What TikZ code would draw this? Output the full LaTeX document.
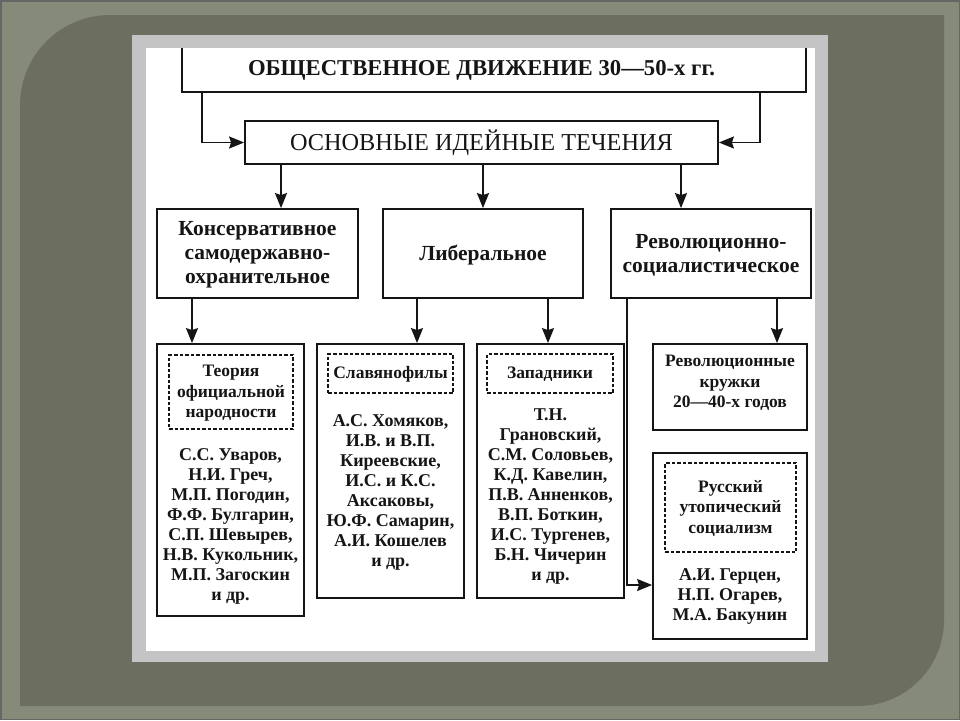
\documentclass[tikz,border=0pt]{standalone}
\usepackage{fontspec}
\setmainfont{Liberation Serif}
\usetikzlibrary{arrows.meta}
\definecolor{outerbg}{HTML}{868A79}
\definecolor{panel}{HTML}{6C6F60}
\definecolor{framegrey}{HTML}{C4C4C4}
\definecolor{ink}{HTML}{151515}
\begin{document}
\begin{tikzpicture}[x=1pt,y=-1pt,
  bx/.style={draw=ink, line width=1.8pt, inner sep=0pt, fill=white},
  dbx/.style={draw=ink, line width=1.4pt, dash pattern=on 3.5pt off 2pt, inner sep=0pt},
  ttl/.style={text=ink, align=center, inner sep=0pt, font=\fontsize{22.7}{26}\selectfont\bfseries},
  ttlb/.style={text=ink, align=center, inner sep=0pt, font=\fontsize{24.3}{26}\selectfont},
  lvl/.style={text=ink, align=center, inner sep=0pt, font=\fontsize{21.5}{24}\selectfont\bfseries},
  sub/.style={text=ink, align=center, inner sep=0pt, font=\fontsize{17.5}{20.5}\selectfont\bfseries},
  nms/.style={text=ink, align=center, inner sep=0pt, font=\fontsize{18}{20}\selectfont\bfseries},
  arr/.style={draw=ink, line width=1.8pt, -{Stealth[length=15pt,width=12pt,inset=2pt]}}
]
\useasboundingbox (0,0) rectangle (960,720);
% background
\fill[outerbg] (0,0) rectangle (960,720);
\fill[panel] (20,706) -- (20,105) arc[start angle=180,end angle=270,radius=90]
  -- (944,15) -- (944,620) arc[start angle=0,end angle=90,radius=86] -- cycle;
\draw[black!60, line width=1.5pt] (0.75,0.75) rectangle (959.25,719.25);
% picture frame
\fill[framegrey] (132,35) rectangle (828,662);
\fill[white] (146,48) rectangle (815,651);
\begin{scope}
\clip (146,48) rectangle (815,651);
% boxes
\node[bx, minimum width=624pt, minimum height=70pt] (top) at (494,57) {};
\node[ttl] (topt) at (481.5,70) {ОБЩЕСТВЕННОЕ ДВИЖЕНИЕ 30—50-х гг.};
\node[bx, minimum width=473pt, minimum height=43pt] (main) at (481.5,142.5) {};
\node[ttlb] (maint) at (481.5,142.5) {ОСНОВНЫЕ ИДЕЙНЫЕ ТЕЧЕНИЯ};

\node[bx, minimum width=201pt, minimum height=89pt] (A) at (257.5,253.5) {};
\node[lvl] (At) at (257.5,254.5) {Консервативное\\самодержавно-\\охранительное};
\node[bx, minimum width=200pt, minimum height=89pt] (B) at (483,253.5) {};
\node[lvl] (Bt) at (483,255) {Либеральное};
\node[bx, minimum width=200pt, minimum height=89pt] (C) at (711,253.5) {};
\node[lvl] (Ct) at (711,255) {Революционно-\\социалистическое};

\node[bx, minimum width=147pt, minimum height=272pt] (D) at (230.5,480) {};
\node[dbx, minimum width=124pt, minimum height=74pt] (dD) at (231,392) {};
\node[sub] (dDt) at (231,393.5) {Теория\\официальной\\народности};
\node[nms] (Dn) at (230.5,526) {С.С. Уваров,\\Н.И. Греч,\\М.П. Погодин,\\Ф.Ф. Булгарин,\\С.П. Шевырев,\\Н.В. Кукольник,\\М.П. Загоскин\\и др.};

\node[bx, minimum width=147pt, minimum height=254pt] (E) at (390.5,471) {};
\node[dbx, minimum width=125pt, minimum height=39pt] (dE) at (390.5,373.5) {};
\node[sub] (dEt) at (390.5,374.5) {Славянофилы};
\node[nms] (En) at (390.5,492) {А.С. Хомяков,\\И.В. и В.П.\\Киреевские,\\И.С. и К.С.\\Аксаковы,\\Ю.Ф. Самарин,\\А.И. Кошелев\\и др.};

\node[bx, minimum width=147pt, minimum height=254pt] (F) at (550.5,471) {};
\node[dbx, minimum width=126pt, minimum height=39pt] (dF) at (550,373.5) {};
\node[sub] (dFt) at (550,374.5) {Западники};
\node[nms] (Fn) at (550.5,497) {Т.Н.\\Грановский,\\С.М. Соловьев,\\К.Д. Кавелин,\\П.В. Анненков,\\В.П. Боткин,\\И.С. Тургенев,\\Б.Н. Чичерин\\и др.};

\node[bx, minimum width=154pt, minimum height=86pt] (G) at (730,387) {};
\node[sub] (Gt) at (730,383) {Революционные\\кружки\\20—40-х годов};

\node[bx, minimum width=154pt, minimum height=186pt] (H) at (730,546) {};
\node[dbx, minimum width=131pt, minimum height=89pt] (dH) at (730.5,507.5) {};
\node[sub] (dHt) at (730.5,508) {Русский\\утопический\\социализм};
\node[nms] (Hn) at (730,596) {А.И. Герцен,\\Н.П. Огарев,\\М.А. Бакунин};

% connectors
\draw[arr] (top.south west) ++(21,0) |- (main.west);
\draw[arr] (top.south east) ++(-47,0) |- (main.east);
\coordinate (aN) at ([xshift=23.5pt]A.north);
\coordinate (cN) at ([xshift=-30pt]C.north);
\draw[arr] (main.south -| aN) -- (aN);
\draw[arr] (main.south -| B.north) -- (B.north);
\draw[arr] (main.south -| cN) -- (cN);
\coordinate (dN) at ([xshift=-38.5pt]D.north);
\coordinate (eN) at ([xshift=26.5pt]E.north);
\coordinate (fN) at ([xshift=-2.5pt]F.north);
\coordinate (gN) at ([xshift=47pt]G.north);
\draw[arr] (A.south -| dN) -- (dN);
\draw[arr] (B.south -| eN) -- (eN);
\draw[arr] (B.south -| fN) -- (fN);
\draw[arr] (C.south -| gN) -- (gN);
\coordinate (hW) at ([yshift=-39pt]H.west);
\draw[arr] (C.south west) ++(17,0) |- (hW);
\end{scope}
\end{tikzpicture}
\end{document}
